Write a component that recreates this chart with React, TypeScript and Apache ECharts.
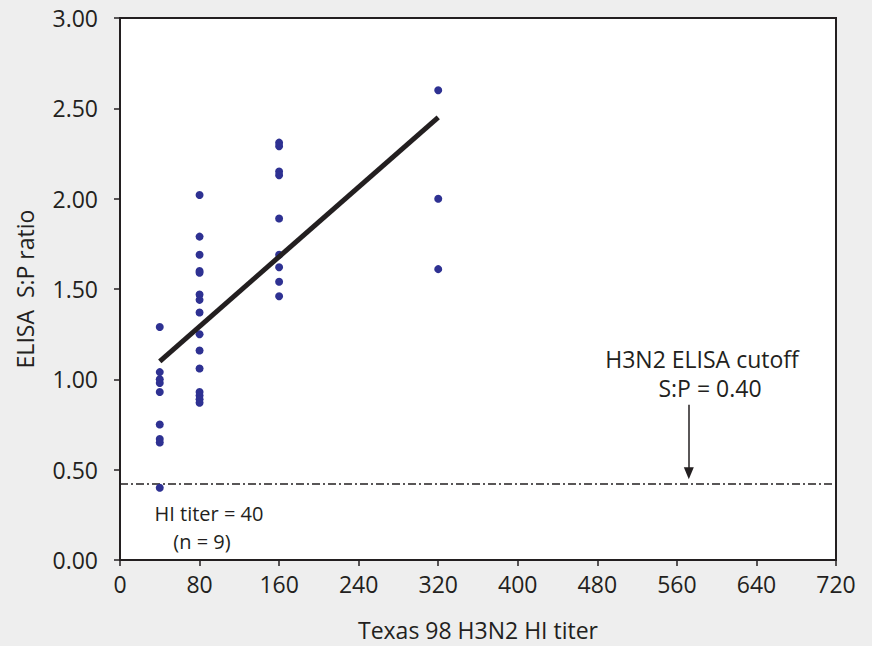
import React, { useEffect, useRef } from "react";
import * as echarts from "echarts";

const xTicks = [0, 80, 160, 240, 320, 400, 480, 560, 640, 720];
const titer40 = [1.29, 1.04, 1.0, 0.98, 0.93, 0.75, 0.67, 0.65, 0.4];
const titer80 = [2.02, 1.79, 1.69, 1.6, 1.59, 1.47, 1.44, 1.37, 1.25, 1.16, 1.06, 0.93, 0.91, 0.89, 0.87];
const titer160 = [2.31, 2.29, 2.15, 2.13, 1.89, 1.69, 1.62, 1.54, 1.46];
const titer320 = [2.6, 2.0, 1.61];
const fitLine = [[40, 1.1], [320, 2.45]];
const cutoff = 0.42;
const arrowX = 572;
const arrowFrom = 0.86;
const arrowTo = 0.48;

const FONT = "'Open Sans', 'Noto Sans', sans-serif";
const INK = "#231f20";

export default function App() {
  const ref = useRef<HTMLDivElement>(null);
  useEffect(() => {
    if (!ref.current) return;
    const chart = echarts.init(ref.current, null, { renderer: "svg" });
    const pts: number[][] = [];
    titer40.forEach((v) => pts.push([40, v]));
    titer80.forEach((v) => pts.push([80, v]));
    titer160.forEach((v) => pts.push([160, v]));
    titer320.forEach((v) => pts.push([320, v]));
    const txt = (text: string, x: number, y: number, size = 23) => ({
      type: "text",
      x,
      y,
      style: {
        text,
        fontSize: size,
        lineHeight: size,
        fill: INK,
        fontFamily: FONT,
        align: "center",
        verticalAlign: "middle",
      },
    });
    chart.setOption({
      animation: false,
      backgroundColor: "#eeeeee",
      textStyle: { fontFamily: FONT },
      grid: {
        left: 120,
        right: 36,
        top: 18,
        bottom: 86,
        show: true,
        backgroundColor: "#ffffff",
        borderColor: INK,
        borderWidth: 2,
      },
      xAxis: {
        type: "value",
        min: 0,
        max: 720,
        interval: 80,
        name: "Texas 98 H3N2 HI titer",
        nameLocation: "middle",
        nameGap: 58,
        nameTextStyle: { fontSize: 23, color: INK, fontFamily: FONT },
        axisLine: { show: true, lineStyle: { color: INK, width: 2 } },
        axisTick: { show: true, length: 6, lineStyle: { color: INK, width: 1.5 } },
        axisLabel: { fontSize: 23, color: INK, margin: 12, fontFamily: FONT },
        splitLine: { show: false },
      },
      yAxis: {
        type: "value",
        min: 0,
        max: 3,
        interval: 0.5,
        name: "ELISA  S:P ratio",
        nameLocation: "middle",
        nameGap: 84,
        nameTextStyle: { fontSize: 23, color: INK, fontFamily: FONT },
        axisLine: { show: true, lineStyle: { color: INK, width: 2 } },
        axisTick: { show: true, length: 6, lineStyle: { color: INK, width: 1.5 } },
        axisLabel: {
          fontSize: 23,
          color: INK,
          margin: 22,
          fontFamily: FONT,
          formatter: (v: number) => v.toFixed(2),
        },
        splitLine: { show: false },
      },
      series: [
        {
          type: "line",
          data: [[0, cutoff], [720, cutoff]],
          symbol: "none",
          lineStyle: { color: INK, width: 1.5, type: [8, 3, 2, 3] },
          silent: true,
          z: 1,
        },
        {
          type: "scatter",
          data: pts,
          symbol: "circle",
          symbolSize: 8,
          itemStyle: { color: "#2e3192", opacity: 1 },
          z: 3,
        },
        {
          type: "line",
          data: fitLine,
          symbol: "none",
          lineStyle: { color: INK, width: 5 },
          z: 4,
        },
        {
          type: "line",
          data: [],
          markLine: {
            silent: true,
            symbol: ["none", "triangle"],
            symbolSize: [10, 12],
            label: { show: false },
            lineStyle: { color: INK, width: 1.5, type: "solid" },
            data: [[{ coord: [arrowX, arrowFrom] }, { coord: [arrowX, arrowTo] }]],
          },
        },
      ],
      graphic: [
        txt("H3N2 ELISA cutoff", 702, 359),
        txt("S:P = 0.40", 710, 388),
        txt("HI titer = 40", 209, 513, 20),
        txt("(n = 9)", 202, 541, 20),
      ],
    });
    return () => chart.dispose();
  }, []);
  return <div ref={ref} style={{ width: 872, height: 646, position: "absolute", left: 0, top: 0 }} />;
}
